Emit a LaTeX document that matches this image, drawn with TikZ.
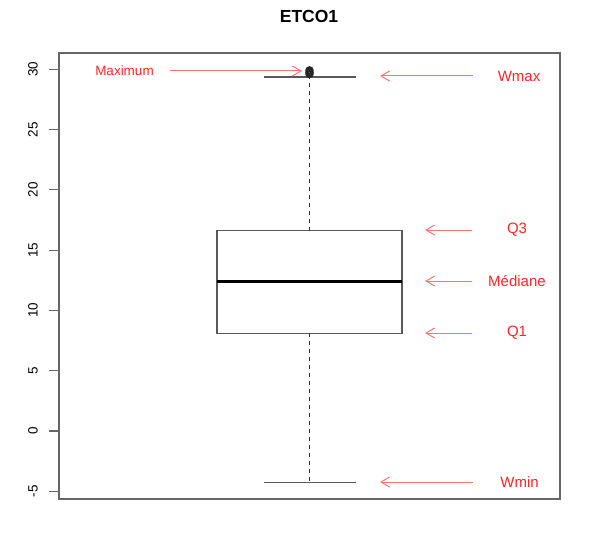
\documentclass[tikz,border=0pt]{standalone}
\usepackage{fontspec}
\setmainfont{Liberation Sans}
\usetikzlibrary{arrows.meta}

\begin{document}
\begin{tikzpicture}
  [x=1pt,y=-1pt,every node/.style={inner sep=0pt},
   frame/.style={draw=black!60,line width=1.1pt},
   boxline/.style={draw=black!65,line width=1.1pt},
   whisk/.style={draw=black!80,line width=0.9pt,dash pattern=on 4pt off 4pt},
   lbl/.style={text=red!85,font=\fontsize{15}{18}\selectfont},
   tick/.style={font=\fontsize{13.5}{16}\selectfont,rotate=90},
   ptr/.style={draw=red!55,line width=1pt,-{Straight Barb[angle=60:10pt]}}]
  \useasboundingbox (0,0) rectangle (601,540);
  \node[font=\fontsize{17.5}{20}\selectfont\bfseries] (title) at (309,16) {ETCO1};
  \draw[frame] (59,53) rectangle (560,499);
  \foreach \v in {-5,0,...,30}{
    \draw[frame] (49,{431-12.06*\v}) -- (59,{431-12.06*\v});
    \node[tick] (t\v) at (33,{431-12.06*\v}) {\v};
  }
  % box
  \coordinate (bl) at (217,{431-12.06*8.1});
  \coordinate (tr) at (402,{431-12.06*16.6});
  \coordinate (ml) at (217,{431-12.06*12.4});
  \coordinate (mr) at (402,{431-12.06*12.4});
  \coordinate (q3) at (309.5,{431-12.06*16.6});
  \coordinate (q1) at (309.5,{431-12.06*8.1});
  \coordinate (wmax) at (309.5,{431-12.06*29.35});
  \coordinate (wmin) at (309.5,{431-12.06*-4.25});
  \draw[boxline] (bl) rectangle (tr);
  \draw[line width=2.8pt] (ml) -- (mr);
  \draw[whisk] (q3) -- (wmax);
  \draw[whisk] (q1) -- (wmin);
  \draw[boxline] ([xshift=-46pt]wmax) -- ([xshift=46pt]wmax);
  \draw[boxline] ([xshift=-46pt]wmin) -- ([xshift=46pt]wmin);
  \foreach \v in {29.6,29.75,29.9}
    \draw[line width=2pt,black!85] (309.5,{431-12.06*\v}) circle (3.2pt);
  % labels
  \node[lbl,font=\fontsize{13.5}{16}\selectfont] (max) at (124.5,71) {Maximum};
  \node[lbl] (lwmax) at (519,76) {Wmax};
  \node[lbl] (lq3) at (517,230) {Q3};
  \node[lbl] (lmed) at (517,281) {Médiane};
  \node[lbl] (lq1) at (517,333) {Q1};
  \node[lbl] (lwmin) at (519.5,482) {Wmin};
  \coordinate (a1) at (170,71);  \coordinate (b1) at (302,71);
  \coordinate (a2) at (473,76);  \coordinate (b2) at (380,76);
  \coordinate (a3) at (472,230); \coordinate (b3) at (425,230);
  \coordinate (a4) at (472,281); \coordinate (b4) at (425,281);
  \coordinate (a5) at (472,333); \coordinate (b5) at (425,333);
  \coordinate (a6) at (473,482); \coordinate (b6) at (380,482);
  \foreach \from/\to in {a1/b1,a2/b2,a3/b3,a4/b4,a5/b5,a6/b6}
    \draw[ptr] (\from) -- (\to);
\end{tikzpicture}
\end{document}
